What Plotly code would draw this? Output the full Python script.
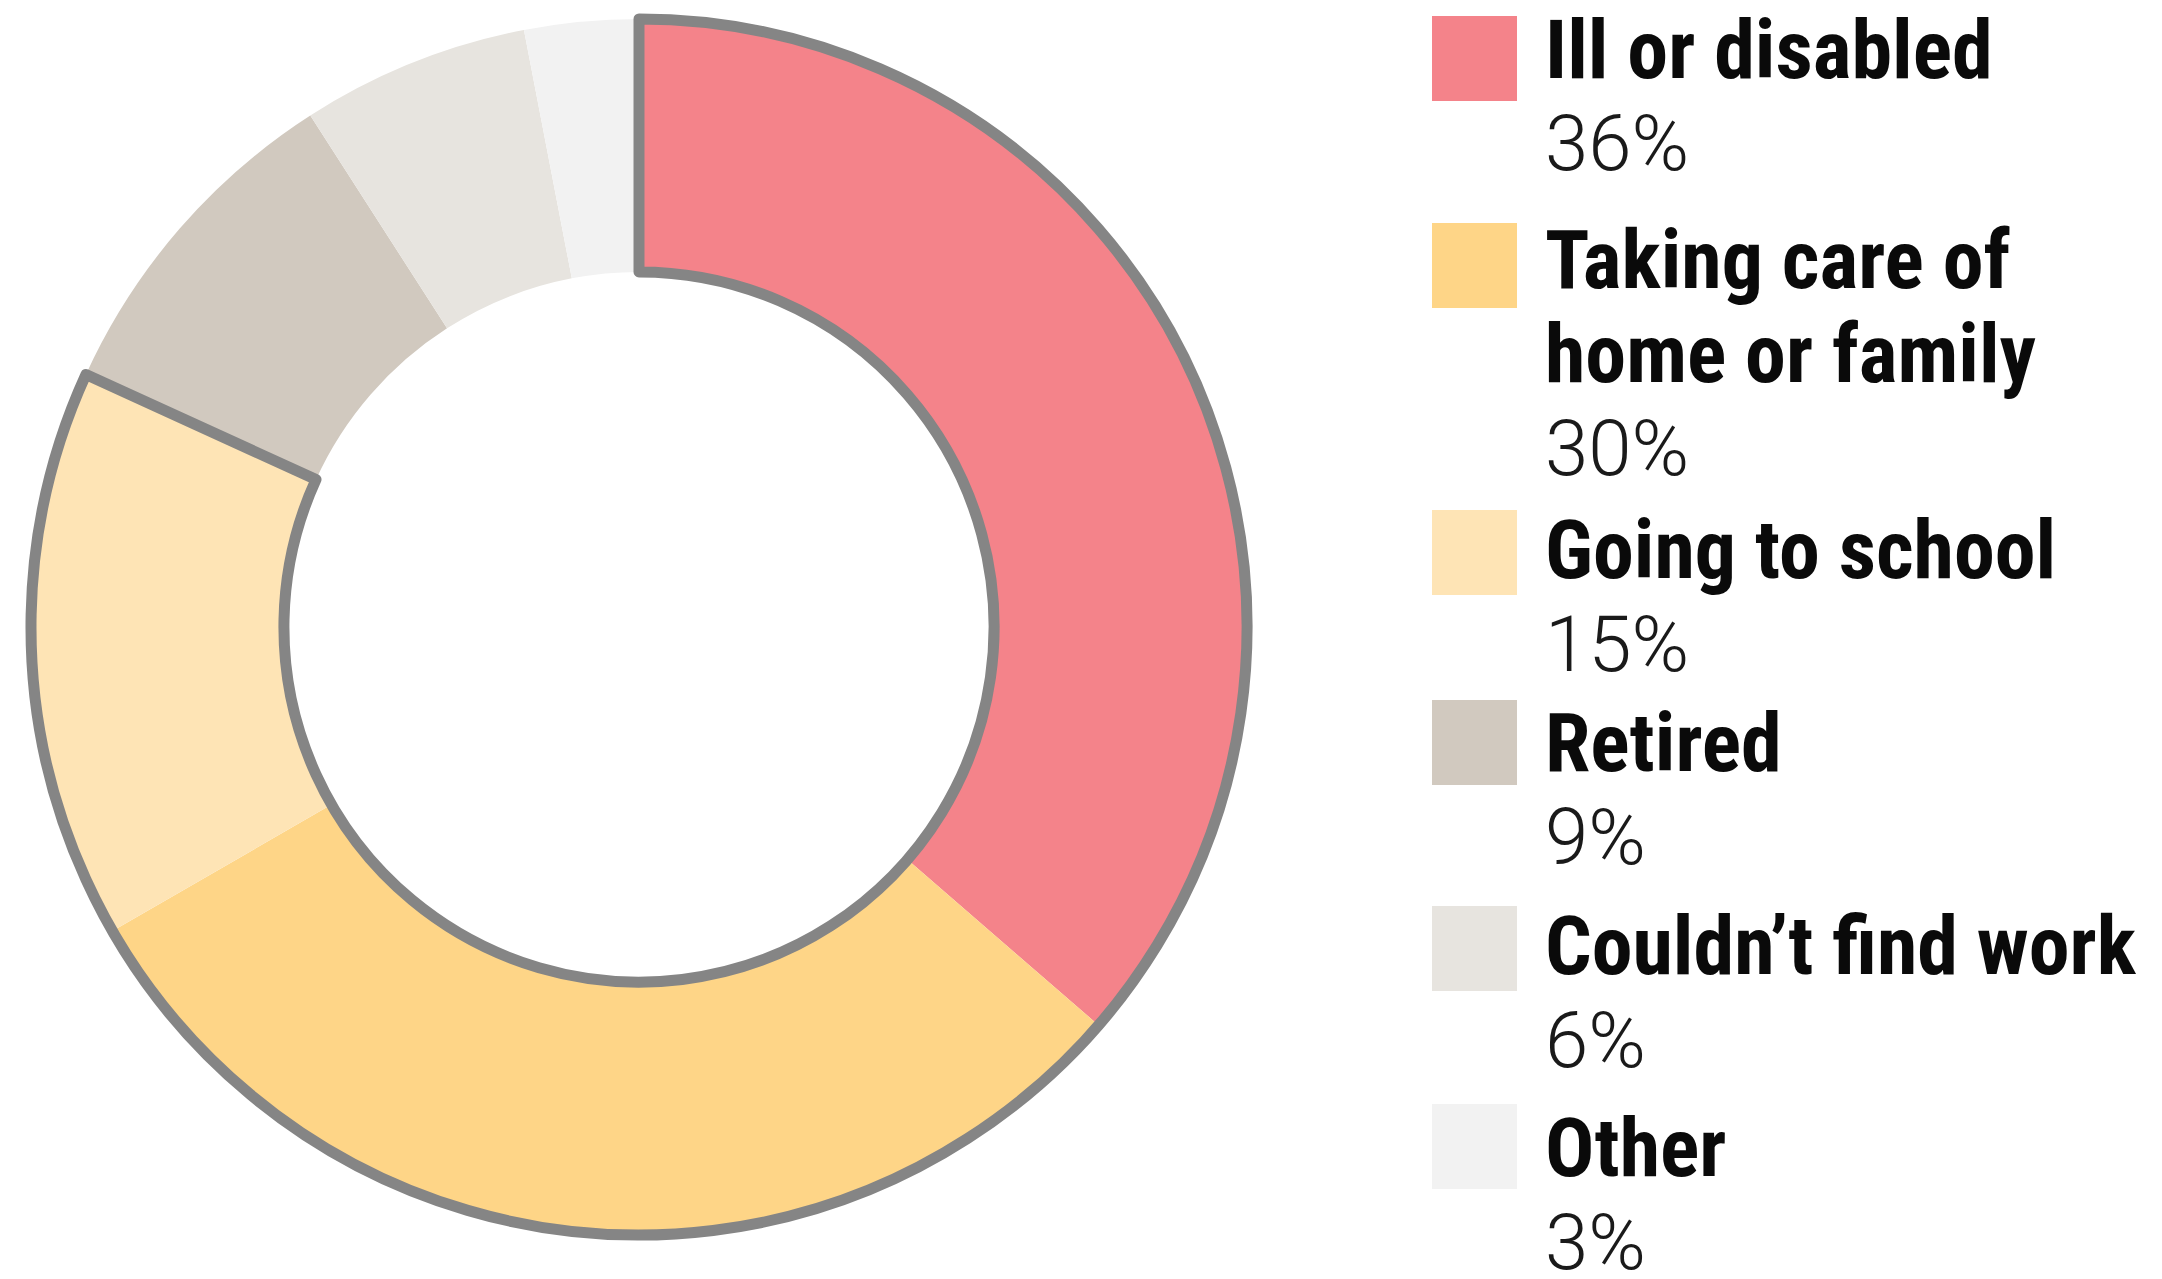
import plotly.graph_objects as go

# ---- data ----
categories = ["Ill or disabled", "Taking care of<br>home or family", "Going to school",
              "Retired", "Couldn’t find work", "Other"]
values = [36, 30, 15, 9, 6, 3]
colors = ["#F4838A", "#FED587", "#FEE4B5", "#D1C9BF", "#E7E4DF", "#F2F2F2"]
outlined_count = 3          # first three categories are grouped with an outline
pct_labels = [f"{v}%" for v in values]

# ---- layout constants (pixels) ----
W, H = 2162, 1279
cx, cy, R = 639, 627, 608
hole = 0.584
outline_color = "#858585"
outline_width = 11

def px(x):
    return x / W

def py(y):
    return 1 - y / H

domain = dict(x=[px(cx - R), px(cx + R)], y=[py(cy + R), py(cy - R)])

fig = go.Figure()
fig.add_trace(go.Pie(
    labels=[c.replace("<br>", " ") for c in categories],
    values=values,
    marker=dict(colors=colors, line=dict(width=0)),
    hole=hole, sort=False, direction="clockwise", rotation=0,
    textinfo="none", showlegend=False, domain=domain,
))

group_vals = [sum(values[:outlined_count]), sum(values[outlined_count:])]
fig.add_trace(go.Pie(
    labels=["group", "rest"], values=group_vals,
    marker=dict(colors=["rgba(0,0,0,0)", "rgba(0,0,0,0)"],
                line=dict(width=outline_width, color=[outline_color, "rgba(0,0,0,0)"])),
    hole=hole, sort=False, direction="clockwise", rotation=0,
    textinfo="none", showlegend=False, hoverinfo="skip", domain=domain,
))

# ---- custom legend ----
sq_x0, sq_size = 1432, 85
text_x = 1543
line_h = 94
sq_tops = [16, 223, 510, 700, 906, 1104]
text_mid = [50, 260, 550, 743, 946, 1148]
bold_font = dict(family="Liberation Sans Narrow, Roboto Condensed, Roboto", size=82,
                 color="#0a0a0a", weight=700)
pct_font = dict(family="Roboto", size=78, color="#1a1a1a", weight=300)
shapes, annotations = [], []
for i, (cat, pct, col) in enumerate(zip(categories, pct_labels, colors)):
    top = sq_tops[i]
    shapes.append(dict(type="rect", xref="paper", yref="paper",
                       x0=px(sq_x0), x1=px(sq_x0 + sq_size),
                       y0=py(top + sq_size), y1=py(top),
                       fillcolor=col, line=dict(width=0)))
    lines = cat.split("<br>")
    for k, ln in enumerate(lines):
        annotations.append(dict(xref="paper", yref="paper", x=px(text_x), y=py(text_mid[i] + k * line_h),
                                xanchor="left", yanchor="middle", showarrow=False, text=ln,
                                font=bold_font))
    annotations.append(dict(xref="paper", yref="paper", x=px(text_x),
                            y=py(text_mid[i] + len(lines) * line_h),
                            xanchor="left", yanchor="middle", showarrow=False, text=pct,
                            font=pct_font))

fig.update_layout(width=W, height=H, autosize=False,
                  margin=dict(l=0, r=0, t=0, b=0),
                  paper_bgcolor="white", plot_bgcolor="white",
                  shapes=shapes, annotations=annotations)
fig.write_html("out.html", config={"displayModeBar": False},
               post_script="document.body.style.margin='0';document.body.style.overflow='hidden';")
